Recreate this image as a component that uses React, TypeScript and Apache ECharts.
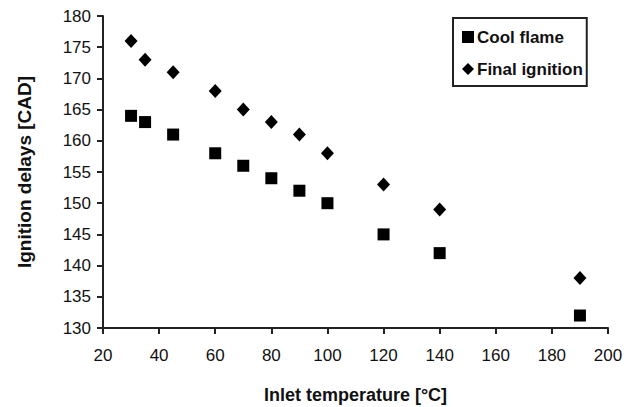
import React, { useEffect, useRef } from "react";
import * as echarts from "echarts";

const temperatures = [30, 35, 45, 60, 70, 80, 90, 100, 120, 140, 190];
const coolFlame = [164, 163, 161, 158, 156, 154, 152, 150, 145, 142, 132];
const finalIgnition = [176, 173, 171, 168, 165, 163, 161, 158, 153, 149, 138];

const FONT = "'Liberation Sans', Arial, sans-serif";

export default function App() {
  const ref = useRef<HTMLDivElement>(null);
  useEffect(() => {
    if (!ref.current) return;
    const chart = echarts.init(ref.current, undefined, { renderer: "svg" });
    chart.setOption({
      animation: false,
      backgroundColor: "#ffffff",
      grid: { left: 103, right: 28, top: 16, bottom: 79, containLabel: false, outerBoundsMode: "none" },
      legend: {
        orient: "vertical",
        left: 453,
        top: 18,
        padding: [10, 4, 8, 9],
        itemGap: 14,
        itemWidth: 12,
        itemHeight: 12,
        borderColor: "#222",
        borderWidth: 2,
        textStyle: {
          fontFamily: FONT,
          fontSize: 17,
          lineHeight: 18,
          fontWeight: "bold",
          color: "#111",
          padding: [0, 0, 0, -2],
        },
        data: [
          { name: "Cool flame", icon: "rect" },
          { name: "Final ignition", icon: "diamond" },
        ],
      },
      xAxis: {
        type: "value",
        min: 20,
        max: 200,
        interval: 20,
        name: "Inlet temperature [°C]",
        nameLocation: "middle",
        nameGap: 58,
        nameTextStyle: { fontFamily: FONT, fontSize: 18, fontWeight: "bold", color: "#111" },
        axisLine: { show: true, lineStyle: { color: "#222", width: 2 } },
        axisTick: { show: true, inside: false, length: 6, lineStyle: { color: "#222", width: 2 } },
        axisLabel: { fontFamily: FONT, fontSize: 17, color: "#111", margin: 19 },
        splitLine: { show: false },
      },
      yAxis: {
        type: "value",
        min: 130,
        max: 180,
        interval: 5,
        name: "Ignition delays [CAD]",
        nameLocation: "middle",
        nameGap: 69,
        nameRotate: 90,
        nameTextStyle: { fontFamily: FONT, fontSize: 19, fontWeight: "bold", color: "#111" },
        axisLine: { show: true, lineStyle: { color: "#222", width: 2 } },
        axisTick: { show: true, inside: false, length: 6, lineStyle: { color: "#222", width: 2 } },
        axisLabel: { fontFamily: FONT, fontSize: 17, color: "#111", margin: 12 },
        splitLine: { show: false },
      },
      series: [
        {
          name: "Cool flame",
          type: "scatter",
          symbol: "rect",
          symbolSize: 12,
          itemStyle: { color: "#000", opacity: 1 },
          data: temperatures.map((t, i) => [t, coolFlame[i]]),
        },
        {
          name: "Final ignition",
          type: "scatter",
          symbol: "diamond",
          symbolSize: [13, 14],
          itemStyle: { color: "#000", opacity: 1 },
          data: temperatures.map((t, i) => [t, finalIgnition[i]]),
        },
      ],
    });
    return () => chart.dispose();
  }, []);
  return <div ref={ref} style={{ width: 636, height: 407, position: "absolute", left: 0, top: 0 }} />;
}
